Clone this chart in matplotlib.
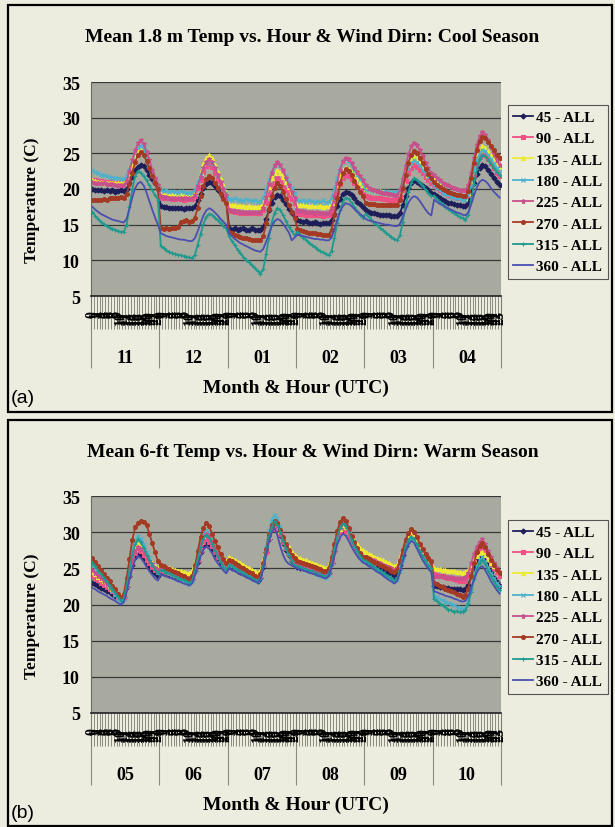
import numpy as np
import matplotlib
matplotlib.use("Agg")
import matplotlib.pyplot as plt
from matplotlib.patches import Rectangle

plt.rcParams['font.family'] = ['Liberation Serif', 'DejaVu Serif']
plt.rcParams['font.weight'] = 'bold'
plt.rcParams['axes.labelweight'] = 'bold'

# ---- data -------------------------------------------------------------
hours = [str(h) for h in range(24)]
cool_months = ["11", "12", "01", "02", "03", "04"]
warm_months = ["05", "06", "07", "08", "09", "10"]
series_labels = ["45 - ALL", "90 - ALL", "135 - ALL", "180 - ALL",
                 "225 - ALL", "270 - ALL", "315 - ALL", "360 - ALL"]

# cool season, one row per month (11, 12, 01, 02, 03, 04), hours 0-23
cool_45 = [
    20.0, 19.9, 19.8, 19.9, 19.7, 19.8, 19.7, 19.8, 19.6, 19.7, 19.8, 19.7, 20.0, 20.8, 21.7, 22.6, 23.1, 23.4, 23.2, 22.6, 22.0, 21.4, 20.8, 20.3,
    17.6, 17.5, 17.5, 17.4, 17.4, 17.3, 17.4, 17.3, 17.2, 17.3, 17.4, 17.3, 17.6, 18.4, 19.3, 20.2, 20.7, 21.0, 20.8, 20.4, 19.9, 19.4, 18.9, 18.5,
    14.6, 14.3, 14.5, 14.2, 14.4, 14.6, 14.3, 14.2, 14.5, 14.3, 14.2, 14.3, 14.7, 15.8, 17.0, 18.1, 18.9, 19.2, 19.0, 18.4, 17.9, 17.2, 16.7, 16.2,
    15.6, 15.5, 15.4, 15.5, 15.3, 15.2, 15.4, 15.3, 15.1, 15.2, 15.3, 15.2, 15.6, 16.5, 17.6, 18.6, 19.3, 19.6, 19.4, 19.1, 18.7, 18.2, 17.9, 17.5,
    17.0, 16.8, 16.7, 16.6, 16.5, 16.4, 16.4, 16.3, 16.3, 16.2, 16.2, 16.2, 16.6, 17.7, 19.0, 20.1, 20.9, 21.2, 21.0, 20.7, 20.4, 20.1, 19.8, 19.5,
    19.3, 19.0, 18.7, 18.5, 18.3, 18.1, 18.0, 17.9, 17.8, 17.7, 17.6, 17.6, 18.1, 19.3, 20.8, 22.1, 23.0, 23.4, 23.2, 22.7, 22.1, 21.5, 21.0, 20.5,
]
cool_90 = [
    21.3, 21.2, 21.1, 21.1, 21.0, 21.0, 21.0, 20.9, 20.9, 20.9, 20.9, 20.9, 21.3, 22.3, 23.4, 24.5, 25.2, 25.5, 25.1, 24.2, 23.1, 22.1, 21.1, 20.2,
    18.8, 18.7, 18.7, 18.7, 18.6, 18.6, 18.7, 18.6, 18.5, 18.6, 18.6, 18.6, 19.0, 20.1, 21.3, 22.4, 23.2, 23.5, 23.1, 22.3, 21.4, 20.4, 19.6, 18.8,
    17.0, 16.9, 16.8, 16.8, 16.7, 16.7, 16.6, 16.7, 16.6, 16.6, 16.6, 16.6, 17.0, 18.1, 19.3, 20.4, 21.2, 21.5, 21.2, 20.6, 19.9, 19.2, 18.6, 18.0,
    16.6, 16.5, 16.5, 16.4, 16.4, 16.3, 16.4, 16.3, 16.3, 16.2, 16.3, 16.3, 16.8, 18.0, 19.4, 20.7, 21.6, 22.0, 21.8, 21.4, 20.9, 20.4, 19.9, 19.5,
    19.0, 18.9, 18.8, 18.8, 18.7, 18.7, 18.6, 18.6, 18.5, 18.5, 18.5, 18.5, 18.9, 19.9, 21.1, 22.2, 23.0, 23.3, 23.1, 22.7, 22.2, 21.7, 21.2, 20.8,
    20.6, 20.2, 19.9, 19.6, 19.4, 19.2, 19.0, 18.9, 18.8, 18.7, 18.6, 18.6, 19.1, 20.5, 22.1, 23.6, 24.6, 25.0, 24.7, 24.2, 23.6, 22.9, 22.3, 21.8,
]
cool_135 = [
    21.2, 21.1, 21.0, 21.0, 20.9, 20.9, 20.9, 20.8, 20.8, 20.8, 20.8, 20.8, 21.2, 22.2, 23.4, 24.5, 25.3, 25.6, 25.2, 24.3, 23.3, 22.2, 21.3, 20.4,
    19.3, 19.2, 19.2, 19.2, 19.1, 19.1, 19.2, 19.1, 19.1, 19.0, 19.1, 19.1, 19.5, 20.8, 22.2, 23.5, 24.3, 24.7, 24.3, 23.4, 22.4, 21.4, 20.5, 19.6,
    17.8, 17.7, 17.7, 17.6, 17.6, 17.6, 17.5, 17.6, 17.5, 17.5, 17.5, 17.5, 17.9, 19.0, 20.3, 21.5, 22.2, 22.6, 22.3, 21.7, 21.0, 20.3, 19.6, 19.0,
    17.8, 17.7, 17.7, 17.7, 17.6, 17.6, 17.7, 17.6, 17.6, 17.5, 17.6, 17.6, 18.0, 19.2, 20.6, 21.8, 22.6, 23.0, 22.8, 22.4, 21.9, 21.4, 20.9, 20.5,
    20.0, 19.9, 19.8, 19.8, 19.7, 19.7, 19.6, 19.6, 19.5, 19.5, 19.5, 19.5, 19.9, 21.0, 22.3, 23.4, 24.2, 24.5, 24.3, 23.8, 23.2, 22.6, 22.0, 21.5,
    21.2, 20.7, 20.4, 20.0, 19.8, 19.5, 19.3, 19.2, 19.0, 18.9, 18.8, 18.8, 19.4, 21.0, 22.8, 24.4, 25.5, 26.0, 25.8, 25.3, 24.7, 24.1, 23.5, 23.0,
]
cool_180 = [
    22.6, 22.4, 22.2, 22.0, 21.9, 21.8, 21.7, 21.6, 21.5, 21.5, 21.4, 21.4, 21.8, 22.8, 23.9, 25.0, 25.7, 26.0, 25.6, 24.6, 23.5, 22.4, 21.4, 20.5,
    19.8, 19.7, 19.9, 19.6, 19.7, 19.6, 19.5, 19.7, 19.6, 19.4, 19.5, 19.5, 19.9, 20.9, 22.0, 23.0, 23.7, 24.0, 23.6, 22.9, 21.9, 21.0, 20.2, 19.4,
    18.6, 18.5, 18.7, 18.4, 18.5, 18.3, 18.6, 18.4, 18.3, 18.5, 18.2, 18.3, 18.7, 19.9, 21.2, 22.4, 23.2, 23.6, 23.3, 22.6, 21.8, 20.9, 20.2, 19.5,
    18.4, 18.3, 18.5, 18.2, 18.4, 18.3, 18.1, 18.3, 18.2, 18.4, 18.1, 18.2, 18.7, 20.0, 21.5, 22.9, 23.8, 24.2, 23.9, 23.4, 22.7, 22.0, 21.4, 20.8,
    19.8, 19.9, 19.7, 19.8, 19.6, 19.7, 19.5, 19.7, 19.6, 19.5, 19.6, 19.6, 20.0, 20.9, 22.0, 23.0, 23.7, 24.0, 23.8, 23.3, 22.7, 22.2, 21.7, 21.2,
    20.5, 20.1, 19.8, 19.5, 19.3, 19.1, 18.9, 18.8, 18.7, 18.6, 18.5, 18.5, 19.1, 20.6, 22.4, 24.0, 25.0, 25.5, 25.3, 24.8, 24.2, 23.6, 23.0, 22.5,
]
cool_225 = [
    21.0, 20.9, 20.9, 20.8, 20.8, 20.7, 20.7, 20.7, 20.6, 20.6, 20.6, 20.6, 21.1, 22.5, 24.0, 25.4, 26.4, 26.8, 26.3, 25.2, 24.0, 22.7, 21.6, 20.5,
    19.0, 18.9, 18.9, 18.8, 18.8, 18.8, 18.7, 18.8, 18.7, 18.7, 18.7, 18.7, 19.1, 20.4, 21.7, 23.0, 23.8, 24.2, 23.8, 23.0, 22.0, 21.0, 20.0, 19.2,
    17.0, 16.9, 16.9, 16.9, 16.8, 16.8, 16.8, 16.8, 16.8, 16.8, 16.8, 16.8, 17.4, 18.9, 20.7, 22.3, 23.3, 23.8, 23.4, 22.6, 21.6, 20.5, 19.6, 18.8,
    17.0, 16.9, 16.9, 16.8, 16.8, 16.8, 16.7, 16.8, 16.7, 16.7, 16.7, 16.7, 17.3, 19.0, 20.9, 22.7, 23.9, 24.4, 24.2, 23.6, 23.0, 22.4, 21.8, 21.3,
    20.5, 20.2, 20.0, 19.9, 19.7, 19.6, 19.5, 19.4, 19.3, 19.3, 19.2, 19.2, 19.8, 21.4, 23.2, 24.9, 26.0, 26.5, 26.2, 25.4, 24.6, 23.7, 22.9, 22.2,
    22.0, 21.6, 21.2, 20.9, 20.7, 20.5, 20.3, 20.1, 20.0, 19.9, 19.8, 19.8, 20.5, 22.3, 24.3, 26.2, 27.4, 28.0, 27.6, 26.8, 25.9, 24.9, 24.1, 23.3,
]
cool_270 = [
    18.4, 18.5, 18.4, 18.5, 18.6, 18.5, 18.7, 18.8, 18.7, 18.8, 18.9, 18.8, 19.3, 20.7, 22.3, 23.8, 24.8, 25.2, 24.8, 23.9, 22.9, 21.8, 20.9, 20.0,
    14.5, 14.4, 14.5, 14.4, 14.6, 14.5, 14.7, 15.4, 15.5, 15.6, 15.4, 15.5, 16.0, 17.4, 19.0, 20.4, 21.4, 21.8, 21.5, 20.9, 20.1, 19.3, 18.6, 18.0,
    14.0, 13.8, 13.6, 13.4, 13.3, 13.1, 13.2, 13.0, 12.9, 12.8, 12.9, 12.8, 13.4, 15.2, 17.2, 19.0, 20.2, 20.8, 20.4, 19.6, 18.6, 17.7, 16.8, 16.0,
    14.4, 14.3, 14.1, 14.0, 13.9, 13.8, 13.8, 13.7, 13.7, 13.6, 13.6, 13.6, 14.3, 16.4, 18.7, 20.8, 22.2, 22.8, 22.5, 21.9, 21.1, 20.3, 19.6, 19.0,
    18.0, 17.9, 17.9, 17.9, 17.8, 17.8, 17.8, 17.8, 17.8, 17.8, 17.8, 17.8, 18.4, 20.1, 21.9, 23.7, 24.8, 25.3, 25.0, 24.4, 23.6, 22.8, 22.1, 21.5,
    21.0, 20.6, 20.3, 20.0, 19.8, 19.6, 19.4, 19.3, 19.2, 19.1, 19.0, 19.0, 19.7, 21.5, 23.6, 25.5, 26.7, 27.3, 27.1, 26.6, 26.0, 25.4, 24.8, 24.3,
]
cool_315 = [
    16.8, 16.2, 15.8, 15.4, 15.1, 14.8, 14.6, 14.4, 14.3, 14.1, 14.0, 14.0, 15.0, 17.5, 20.0, 21.8, 22.5, 22.3, 21.8, 21.2, 20.5, 19.8, 19.1, 18.5,
    12.0, 11.7, 11.4, 11.2, 11.0, 10.9, 10.8, 10.7, 10.6, 10.5, 10.4, 10.3, 10.8, 12.2, 13.7, 15.1, 16.1, 16.5, 16.4, 16.0, 15.6, 15.2, 14.8, 14.5,
    13.4, 12.7, 12.1, 11.5, 11.0, 10.5, 10.1, 9.7, 9.3, 8.9, 8.5, 8.1, 8.8, 10.9, 13.2, 15.3, 16.7, 17.3, 17.0, 16.3, 15.5, 14.7, 14.1, 13.5,
    14.0, 13.6, 13.2, 12.9, 12.5, 12.2, 11.9, 11.6, 11.3, 11.1, 10.9, 10.7, 11.3, 13.2, 15.2, 17.0, 18.2, 18.8, 18.6, 18.1, 17.5, 16.9, 16.4, 16.0,
    16.5, 16.1, 15.7, 15.3, 14.9, 14.6, 14.2, 13.9, 13.6, 13.3, 13.0, 12.8, 13.5, 15.4, 17.6, 19.6, 20.9, 21.5, 21.3, 20.9, 20.4, 19.9, 19.4, 19.0,
    19.0, 18.6, 18.2, 17.9, 17.5, 17.2, 16.9, 16.6, 16.4, 16.1, 15.9, 15.7, 16.4, 18.4, 20.7, 22.8, 24.2, 24.8, 24.6, 24.1, 23.5, 22.9, 22.4, 22.0,
]
cool_360 = [
    17.5, 17.1, 16.8, 16.5, 16.3, 16.1, 15.9, 15.7, 15.6, 15.5, 15.4, 15.3, 15.8, 17.2, 18.8, 20.1, 20.8, 21.0, 20.5, 19.5, 18.3, 17.1, 16.0, 15.0,
    13.8, 13.6, 13.4, 13.3, 13.2, 13.1, 13.0, 12.9, 12.9, 12.8, 12.7, 12.7, 13.1, 14.1, 15.2, 16.3, 17.0, 17.3, 17.1, 16.7, 16.3, 15.8, 15.4, 15.0,
    13.8, 13.4, 13.0, 12.7, 12.4, 12.2, 12.0, 11.8, 11.6, 11.4, 11.3, 11.2, 11.6, 12.6, 13.7, 14.8, 15.5, 15.8, 15.6, 15.1, 14.5, 13.9, 12.8, 13.2,
    13.6, 13.5, 13.4, 13.3, 13.2, 13.1, 13.0, 13.0, 12.9, 12.9, 12.8, 12.8, 13.2, 14.4, 15.7, 16.9, 17.6, 18.0, 17.9, 17.6, 17.2, 16.8, 16.5, 16.2,
    15.8, 15.6, 15.5, 15.4, 15.3, 15.2, 15.1, 15.0, 15.0, 14.9, 14.8, 14.8, 15.1, 16.1, 17.1, 18.1, 18.7, 19.0, 18.8, 18.3, 17.7, 17.1, 16.6, 16.3,
    18.5, 18.2, 17.9, 17.7, 17.5, 17.3, 17.1, 16.9, 16.7, 16.6, 16.4, 16.3, 16.7, 17.8, 19.1, 20.2, 21.0, 21.3, 21.1, 20.7, 20.1, 19.6, 19.2, 18.8,
]

# warm season, one row per month (05 .. 10), hours 0-23
warm_45 = [
    23.0, 22.8, 22.6, 22.3, 22.1, 21.9, 21.7, 21.5, 21.2, 21.0, 20.8, 21.1, 22.4, 24.0, 25.5, 26.6, 27.1, 26.9, 26.3, 25.7, 25.2, 24.7, 24.3, 24.0,
    24.5, 24.4, 24.2, 24.1, 24.0, 23.9, 23.7, 23.6, 23.5, 23.3, 23.2, 23.5, 24.6, 25.9, 27.3, 28.2, 28.6, 28.3, 27.7, 27.0, 26.4, 25.8, 25.3, 25.0,
    25.3, 25.1, 24.9, 24.7, 24.5, 24.3, 24.1, 23.9, 23.7, 23.5, 23.3, 23.7, 25.2, 27.2, 29.1, 30.4, 31.0, 30.6, 29.6, 28.5, 27.6, 26.8, 26.0, 25.5,
    25.2, 25.1, 25.0, 24.9, 24.8, 24.7, 24.5, 24.4, 24.3, 24.2, 24.1, 24.4, 25.8, 27.4, 29.1, 30.2, 30.7, 30.3, 29.6, 28.7, 27.9, 27.2, 26.6, 26.2,
    26.0, 25.8, 25.6, 25.4, 25.2, 25.0, 24.8, 24.6, 24.4, 24.2, 24.0, 24.3, 25.4, 26.8, 28.1, 29.1, 29.5, 29.2, 28.4, 27.6, 26.8, 26.2, 25.6, 25.2,
    22.5, 22.5, 22.4, 22.4, 22.3, 22.3, 22.2, 22.2, 22.1, 22.1, 22.0, 22.1, 22.7, 23.9, 25.0, 26.0, 26.7, 26.9, 26.2, 25.4, 24.5, 23.7, 23.1, 22.5,
]
warm_90 = [
    24.0, 23.7, 23.4, 23.0, 22.7, 22.4, 22.1, 21.8, 21.4, 21.1, 20.8, 21.1, 22.5, 24.2, 25.9, 27.1, 27.6, 27.4, 26.8, 26.2, 25.7, 25.2, 24.8, 24.5,
    24.8, 24.7, 24.5, 24.4, 24.2, 24.1, 24.0, 23.8, 23.7, 23.5, 23.4, 23.7, 24.8, 26.2, 27.6, 28.6, 29.0, 28.7, 28.1, 27.3, 26.6, 26.1, 25.6, 25.2,
    25.8, 25.6, 25.4, 25.1, 24.9, 24.7, 24.5, 24.3, 24.0, 23.8, 23.6, 24.0, 25.5, 27.3, 29.2, 30.4, 31.0, 30.6, 29.7, 28.7, 27.8, 27.0, 26.3, 25.8,
    25.5, 25.4, 25.3, 25.1, 25.0, 24.9, 24.8, 24.7, 24.5, 24.4, 24.3, 24.6, 25.9, 27.4, 29.0, 30.0, 30.5, 30.2, 29.5, 28.6, 27.9, 27.3, 26.7, 26.3,
    26.3, 26.2, 26.0, 25.9, 25.8, 25.7, 25.5, 25.4, 25.3, 25.1, 25.0, 25.2, 26.2, 27.4, 28.6, 29.4, 29.8, 29.5, 28.7, 27.9, 27.1, 26.5, 25.9, 25.5,
    24.2, 24.1, 24.0, 23.9, 23.8, 23.7, 23.6, 23.5, 23.4, 23.3, 23.2, 23.3, 23.9, 24.9, 25.9, 26.8, 27.4, 27.6, 27.1, 26.3, 25.6, 25.0, 24.5, 24.0,
]
warm_135 = [
    24.5, 24.2, 23.8, 23.5, 23.2, 22.9, 22.5, 22.2, 21.9, 21.5, 21.2, 21.6, 23.0, 24.8, 26.5, 27.7, 28.3, 28.0, 27.5, 26.8, 26.3, 25.8, 25.3, 25.0,
    25.3, 25.2, 25.1, 25.0, 24.9, 24.8, 24.7, 24.6, 24.5, 24.4, 24.3, 24.6, 25.7, 27.2, 28.6, 29.5, 30.0, 29.7, 29.0, 28.2, 27.5, 26.9, 26.4, 26.0,
    26.5, 26.3, 26.1, 25.9, 25.7, 25.5, 25.2, 25.0, 24.8, 24.6, 24.4, 24.7, 26.1, 27.8, 29.5, 30.7, 31.2, 30.9, 30.1, 29.3, 28.5, 27.9, 27.3, 26.9,
    26.5, 26.4, 26.2, 26.1, 25.9, 25.8, 25.6, 25.5, 25.3, 25.2, 25.0, 25.3, 26.5, 28.0, 29.5, 30.5, 31.0, 30.7, 30.1, 29.4, 28.8, 28.3, 27.8, 27.5,
    27.2, 27.0, 26.8, 26.6, 26.4, 26.3, 26.1, 25.9, 25.7, 25.5, 25.3, 25.5, 26.5, 27.7, 28.8, 29.6, 30.0, 29.7, 29.0, 28.1, 27.4, 26.8, 26.2, 25.8,
    25.0, 24.9, 24.9, 24.8, 24.8, 24.7, 24.6, 24.6, 24.5, 24.5, 24.4, 24.5, 24.8, 25.5, 26.1, 26.7, 27.1, 27.2, 26.8, 26.3, 25.7, 25.3, 24.8, 24.5,
]
warm_180 = [
    25.5, 25.0, 24.5, 23.9, 23.4, 22.9, 22.4, 21.9, 21.3, 20.8, 20.3, 20.8, 22.6, 24.9, 27.2, 28.8, 29.5, 29.1, 28.3, 27.3, 26.4, 25.6, 25.0, 24.5,
    25.0, 24.8, 24.6, 24.3, 24.1, 23.9, 23.7, 23.5, 23.2, 23.0, 22.8, 23.2, 24.7, 26.6, 28.4, 29.7, 30.3, 29.9, 29.0, 27.9, 27.0, 26.2, 25.5, 25.0,
    25.5, 25.3, 25.0, 24.8, 24.6, 24.4, 24.1, 23.9, 23.7, 23.4, 23.2, 23.7, 25.5, 27.8, 30.1, 31.7, 32.4, 31.8, 30.7, 29.3, 28.1, 27.1, 26.2, 25.5,
    25.3, 25.1, 25.0, 24.8, 24.7, 24.5, 24.3, 24.2, 24.0, 23.9, 23.7, 24.1, 25.7, 27.6, 29.6, 30.9, 31.5, 31.1, 30.1, 29.0, 28.1, 27.3, 26.5, 26.0,
    26.0, 25.7, 25.4, 25.2, 24.9, 24.6, 24.3, 24.0, 23.8, 23.5, 23.2, 23.5, 24.7, 26.2, 27.7, 28.7, 29.2, 28.9, 28.2, 27.3, 26.6, 26.0, 25.4, 25.0,
    21.2, 21.0, 20.8, 20.6, 20.4, 20.2, 20.1, 19.9, 19.7, 19.5, 19.3, 19.5, 20.4, 22.0, 23.8, 25.2, 26.1, 26.5, 25.9, 25.1, 24.3, 23.6, 23.0, 22.5,
]
warm_225 = [
    24.8, 24.4, 24.0, 23.7, 23.3, 22.9, 22.5, 22.1, 21.8, 21.4, 21.0, 21.4, 22.8, 24.5, 26.3, 27.4, 28.0, 27.7, 27.2, 26.6, 26.0, 25.6, 25.1, 24.8,
    25.0, 24.9, 24.7, 24.6, 24.4, 24.3, 24.2, 24.0, 23.9, 23.7, 23.6, 23.9, 25.2, 26.7, 28.3, 29.3, 29.8, 29.5, 28.7, 27.9, 27.1, 26.5, 25.9, 25.5,
    26.0, 25.8, 25.5, 25.3, 25.1, 24.9, 24.6, 24.4, 24.2, 23.9, 23.7, 24.1, 25.6, 27.5, 29.4, 30.7, 31.3, 30.9, 30.0, 28.9, 28.0, 27.2, 26.5, 26.0,
    25.8, 25.7, 25.5, 25.4, 25.2, 25.1, 25.0, 24.8, 24.7, 24.5, 24.4, 24.7, 26.1, 27.9, 29.6, 30.7, 31.3, 30.9, 30.1, 29.2, 28.4, 27.7, 27.1, 26.6,
    26.6, 26.4, 26.2, 26.1, 25.9, 25.7, 25.5, 25.3, 25.2, 25.0, 24.8, 25.1, 26.2, 27.6, 29.0, 29.9, 30.4, 30.0, 29.3, 28.3, 27.5, 26.9, 26.3, 25.8,
    24.0, 24.0, 23.9, 23.9, 23.8, 23.8, 23.8, 23.7, 23.7, 23.6, 23.6, 23.8, 24.4, 25.7, 27.0, 28.0, 28.7, 29.0, 28.3, 27.4, 26.5, 25.8, 25.1, 24.5,
]
warm_270 = [
    26.4, 25.9, 25.3, 24.8, 24.2, 23.7, 23.2, 22.6, 22.1, 21.5, 21.0, 21.5, 23.6, 26.3, 28.9, 30.7, 31.3, 31.5, 31.4, 31.0, 29.8, 28.5, 27.2, 26.0,
    25.5, 25.3, 25.1, 24.9, 24.7, 24.5, 24.3, 24.1, 23.9, 23.7, 23.5, 23.9, 25.4, 27.4, 29.3, 30.6, 31.2, 30.8, 29.8, 28.8, 27.9, 27.0, 26.3, 25.8,
    26.2, 26.0, 25.7, 25.5, 25.2, 25.0, 24.8, 24.5, 24.3, 24.0, 23.8, 24.2, 25.8, 27.7, 29.7, 31.0, 31.6, 31.2, 30.3, 29.3, 28.4, 27.6, 26.9, 26.4,
    26.0, 25.9, 25.7, 25.6, 25.4, 25.3, 25.2, 25.0, 24.9, 24.7, 24.6, 25.0, 26.5, 28.3, 30.2, 31.4, 32.0, 31.6, 30.6, 29.5, 28.6, 27.8, 27.1, 26.5,
    26.5, 26.3, 26.1, 25.9, 25.7, 25.5, 25.3, 25.1, 24.9, 24.7, 24.5, 24.8, 26.0, 27.5, 28.9, 29.9, 30.4, 30.0, 29.3, 28.4, 27.7, 27.0, 26.4, 26.0,
    23.0, 22.8, 22.6, 22.4, 22.2, 22.0, 21.9, 21.7, 21.5, 21.3, 21.1, 21.3, 22.2, 23.9, 25.7, 27.2, 28.1, 28.5, 27.9, 27.0, 26.2, 25.5, 24.8, 24.3,
]
warm_315 = [
    25.8, 25.3, 24.7, 24.2, 23.7, 23.2, 22.6, 22.1, 21.6, 21.0, 20.5, 20.9, 22.6, 24.8, 26.9, 28.3, 29.0, 28.6, 27.8, 26.9, 26.1, 25.4, 24.8, 24.3,
    24.8, 24.6, 24.4, 24.3, 24.1, 23.9, 23.7, 23.5, 23.4, 23.2, 23.0, 23.3, 24.7, 26.3, 28.0, 29.1, 29.6, 29.2, 28.4, 27.4, 26.6, 25.9, 25.2, 24.8,
    25.5, 25.3, 25.0, 24.8, 24.6, 24.4, 24.1, 23.9, 23.7, 23.4, 23.2, 23.6, 25.3, 27.4, 29.4, 30.8, 31.5, 31.0, 30.0, 28.8, 27.7, 26.8, 26.0, 25.4,
    25.3, 25.2, 25.0, 24.9, 24.7, 24.6, 24.5, 24.3, 24.2, 24.0, 23.9, 24.3, 25.7, 27.6, 29.4, 30.6, 31.2, 30.8, 30.0, 28.9, 28.1, 27.4, 26.7, 26.2,
    26.0, 25.7, 25.5, 25.2, 24.9, 24.7, 24.4, 24.1, 23.8, 23.6, 23.3, 23.6, 24.8, 26.4, 27.9, 28.9, 29.4, 29.0, 28.3, 27.4, 26.7, 26.0, 25.4, 25.0,
    20.8, 20.5, 20.1, 19.9, 19.6, 19.3, 19.2, 19.0, 19.1, 18.9, 19.0, 19.2, 20.1, 21.7, 23.5, 24.9, 25.8, 26.2, 25.6, 24.7, 23.9, 23.2, 22.5, 22.0,
]
warm_360 = [
    22.3, 22.1, 21.8, 21.6, 21.4, 21.2, 20.9, 20.7, 20.5, 20.2, 20.0, 20.3, 21.7, 23.4, 25.0, 26.2, 26.7, 26.4, 25.9, 25.2, 24.6, 24.1, 23.6, 23.3,
    24.2, 24.0, 23.9, 23.7, 23.6, 23.4, 23.2, 23.1, 22.9, 22.8, 22.6, 22.9, 24.0, 25.3, 26.7, 27.6, 28.0, 27.7, 27.1, 26.3, 25.7, 25.2, 24.7, 24.3,
    25.0, 24.8, 24.6, 24.4, 24.2, 24.0, 23.8, 23.6, 23.4, 23.2, 23.0, 23.4, 24.9, 26.8, 28.7, 30.0, 30.6, 29.5, 28.0, 26.8, 26.0, 25.6, 25.4, 25.2,
    25.0, 24.9, 24.7, 24.6, 24.4, 24.3, 24.2, 24.0, 23.9, 23.7, 23.6, 23.9, 25.2, 26.7, 28.3, 29.3, 29.8, 29.5, 28.8, 28.0, 27.3, 26.7, 26.2, 25.8,
    25.6, 25.3, 25.1, 24.8, 24.5, 24.3, 24.0, 23.7, 23.4, 23.2, 22.9, 23.2, 24.4, 25.9, 27.3, 28.3, 28.8, 28.5, 27.7, 26.9, 26.1, 25.5, 24.9, 24.5,
    21.8, 21.7, 21.5, 21.4, 21.2, 21.1, 21.0, 20.8, 20.7, 20.5, 20.4, 20.5, 21.1, 22.3, 23.4, 24.4, 25.1, 25.3, 24.7, 24.0, 23.2, 22.6, 22.0, 21.5,
]

cool_series = [cool_45, cool_90, cool_135, cool_180, cool_225, cool_270, cool_315, cool_360]
warm_series = [warm_45, warm_90, warm_135, warm_180, warm_225, warm_270, warm_315, warm_360]
for s in cool_series + warm_series:
    assert len(s) == 144, len(s)

# ---- style ------------------------------------------------------------
BG = "#ECECDF"
PLOT_BG = "#A9AA9F"
styles = [
    ("#1E1E5A", "D", 2.6),
    ("#EE4F84", "s", 2.6),
    ("#EDEA35", "^", 3.0),
    ("#4BB2CE", "x", 3.0),
    ("#C8508C", "*", 3.6),
    ("#A53A24", "o", 2.8),
    ("#1E9A8E", "+", 3.4),
    ("#4A4FB0", "", 0),
]

W, H = 615, 828
fig = plt.figure(figsize=(W / 100, H / 100), dpi=100, facecolor=BG)


def px_rect(x0, y0, x1, y1):
    # pixel box (top-left origin) -> figure fraction rect
    return [x0 / W, 1 - y1 / H, (x1 - x0) / W, (y1 - y0) / H]


def draw_panel(ax_box, frame_box, title, title_y, series, months, leg_top,
               tag, tag_y, xlab_y):
    fig.add_artist(Rectangle((frame_box[0], frame_box[1]), frame_box[2], frame_box[3],
                             transform=fig.transFigure, fill=False,
                             ec="black", lw=1.6))
    ax = fig.add_axes(ax_box)
    ax.set_facecolor(PLOT_BG)
    x = np.arange(144) + 0.5
    for vals, lab, (c, m, ms) in zip(series, series_labels, styles):
        ax.plot(x, vals, color=c, lw=1.3, marker=m if m else None, ms=ms,
                mew=0.8, label=lab)
    ax.set_xlim(0, 144)
    ax.set_ylim(5, 35)
    ax.set_yticks(range(5, 36, 5))
    ax.yaxis.grid(True, color="#383838", lw=0.9)
    ax.set_axisbelow(True)
    for sp in ("top", "right"):
        ax.spines[sp].set_visible(False)
    ax.spines["bottom"].set_color("#222222")
    ax.spines["bottom"].set_linewidth(1.2)
    ax.spines["left"].set_color("#6a6a60")
    ax.spines["left"].set_linewidth(0.8)
    ax.tick_params(axis="y", length=0, pad=8, labelsize=13)
    plt.setp(ax.get_yticklabels(), fontweight="bold")

    # hour level of the category axis (prints as a dense black band)
    ax.set_xticks(np.arange(145))
    ax.set_xticklabels([])
    ax.tick_params(axis="x", which="major", length=24, width=0.6,
                   color="#7a7a70")
    ax.set_xticks(x, minor=True)
    ax.set_xticklabels(hours * 6, minor=True, rotation=90, fontsize=10,
                       fontweight="bold")
    ax.tick_params(axis="x", which="minor", length=0, pad=10)

    # month level
    sec = ax.secondary_xaxis("bottom")
    sec.set_xticks(np.arange(0, 145, 24), [""] * 7)
    sec.set_xticks(np.arange(12, 144, 24), months, minor=True)
    sec.tick_params(which="major", length=52, width=0.8, color="#8a8a80")
    sec.tick_params(which="minor", length=0, pad=38, labelsize=13)
    sec.spines["bottom"].set_visible(False)

    ax.set_ylabel("Temperature (C)", fontsize=12.5, fontweight="bold")
    ax.yaxis.set_label_coords(-0.124, 0.45)

    fig.text(0.508, title_y, title, ha="center", va="center", fontsize=14,
             fontweight="bold")
    fig.text(296 / W, xlab_y, "Month & Hour (UTC)", ha="center", va="center",
             fontsize=14, fontweight="bold")
    fig.text(11 / W, tag_y, tag, ha="left", va="center", fontsize=14,
             family="Liberation Sans", fontweight="normal")

    ax.legend(loc="upper left", bbox_to_anchor=(508 / W, leg_top),
              bbox_transform=fig.transFigure, borderaxespad=0,
              frameon=True, fancybox=False, framealpha=1, facecolor=BG,
              edgecolor="#555555", fontsize=11, handlelength=1.3,
              handletextpad=0.2, labelspacing=0.5, borderpad=0.35)
    ax.get_legend().get_frame().set_linewidth(0.8)
    return ax


draw_panel(px_rect(91, 83, 501, 297), px_rect(8, 6, 612, 413),
           "Mean 1.8 m Temp vs. Hour & Wind Dirn: Cool Season", 1 - 38 / H,
           cool_series, cool_months, 1 - 106 / H, "(a)", 1 - 399 / H, 1 - 388 / H)
draw_panel(px_rect(91, 497, 501, 714), px_rect(8, 421, 612, 827),
           "Mean 6-ft Temp vs. Hour & Wind Dirn: Warm Season", 1 - 453 / H,
           warm_series, warm_months, 1 - 521 / H, "(b)", 1 - 814 / H, 1 - 805 / H)

fig.savefig("out.png", dpi=100, facecolor=BG)
